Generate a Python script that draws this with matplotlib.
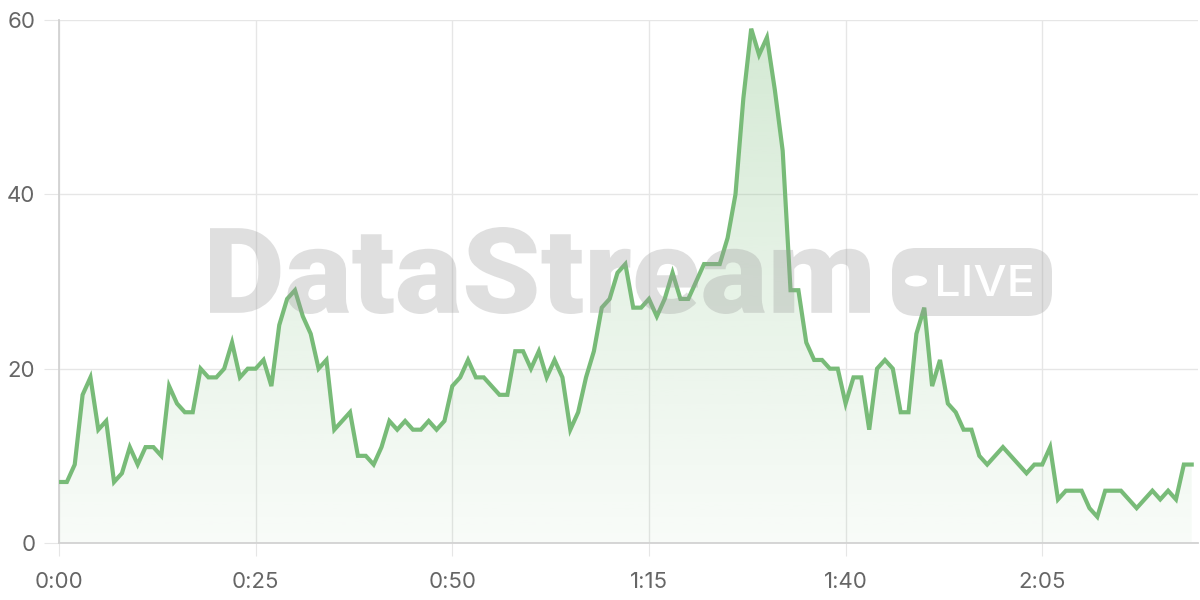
import matplotlib.pyplot as plt
import numpy as np
from matplotlib.ticker import FuncFormatter, MultipleLocator
from matplotlib.patches import FancyBboxPatch, Circle, PathPatch
from matplotlib.textpath import TextPath
from matplotlib.font_manager import FontProperties
from matplotlib.transforms import Affine2D

# values per second
seconds = list(range(145))
values = [7, 7, 9, 17, 19, 13, 14, 7, 8, 11, 9, 11, 11, 10, 18, 16, 15, 15, 20, 19,
          19, 20, 23, 19, 20, 20, 21, 18, 25, 28, 29, 26, 24, 20, 21, 13, 14, 15, 10, 10,
          9, 11, 14, 13, 14, 13, 13, 14, 13, 14, 18, 19, 21, 19, 19, 18, 17, 17, 22, 22,
          20, 22, 19, 21, 19, 13, 15, 19, 22, 27, 28, 31, 32, 27, 27, 28, 26, 28, 31, 28,
          28, 30, 32, 32, 32, 35, 40, 51, 59, 56, 58, 52, 45, 29, 29, 23, 21, 21, 20, 20,
          16, 19, 19, 13, 20, 21, 20, 15, 15, 24, 27, 18, 21, 16, 15, 13, 13, 10, 9, 10,
          11, 10, 9, 8, 9, 9, 11, 5, 6, 6, 6, 4, 3, 6, 6, 6, 5, 4, 5, 6,
          5, 6, 5, 9, 9]
y_ticks = [0, 20, 40, 60]
watermark = "DataStream"
badge_text = "LIVE"

line_color = "#78bb78"
grid_color = "#e6e6e6"
axis_color = "#d2d2d2"
label_color = "#666666"
font = ["Inter", "DejaVu Sans"]
H = 600  # figure height in px, for flipping y


def mmss(v, pos):
    v = int(round(v))
    return f"{v // 60}:{v % 60:02d}"


def fitted_text(fig, s, box, prop, **kw):
    # text path stretched to fill a pixel box (x0, y_top, x1, y_bottom)
    x0, yt, x1, yb = box
    p = TextPath((0, 0), s, size=100, prop=prop)
    e = p.get_extents()
    tr = (Affine2D().translate(-e.x0, -e.y0)
          .scale((x1 - x0) / e.width, (yb - yt) / e.height)
          .translate(x0, H - yb))
    fig.patches.append(PathPatch(tr.transform_path(p), transform=None, **kw))


fig = plt.figure(figsize=(12, 6), dpi=100)
ax = fig.add_axes([59 / 1200, 1 - 543 / 600, (1198 - 59) / 1200, (543 - 20) / 600])

x = np.array(seconds)
y = np.array(values)

# gradient fill under the line
poly = ax.fill_between(x, y, 0, color="none", lw=0)
rgba = np.zeros((256, 1, 4))
rgba[..., 0], rgba[..., 1], rgba[..., 2] = 120 / 255, 187 / 255, 120 / 255
rgba[..., 3] = np.linspace(0.05, 0.32, 256)[:, None]
img = ax.imshow(rgba, extent=[x.min(), x.max(), 0, 60], origin="lower",
                aspect="auto", zorder=1)
img.set_clip_path(poly.get_paths()[0], transform=ax.transData)

ax.plot(x, y, color=line_color, lw=3, zorder=4, solid_joinstyle="miter")

# watermark, drawn over the line
fitted_text(fig, watermark, (210, 227, 870, 314),
            FontProperties(family=["Roboto", "DejaVu Sans"], weight="black"),
            fc="#999999", ec="none", alpha=0.31, zorder=5)
badge = FancyBboxPatch((892 / 1200, 1 - 316 / 600), (1052 - 892) / 1200, 68 / 600,
                       boxstyle="round,pad=0,rounding_size=0.02",
                       transform=fig.transFigure, fc="#999999", ec="none",
                       alpha=0.31, zorder=5, mutation_aspect=2)
fig.patches.append(badge)
fig.patches.append(Circle((916 / 1200, 1 - 281 / 600), 11 / 1200,
                          transform=fig.transFigure, fc="white", ec="none", zorder=6))
fitted_text(fig, badge_text, (938, 265, 1032, 296),
            FontProperties(family=font, weight="medium"), fc="white", ec="none", zorder=6)

ax.set_xlim(0, 144.8)
ax.set_ylim(0, 60)
ax.set_yticks(y_ticks)
ax.xaxis.set_major_locator(MultipleLocator(25))
ax.xaxis.set_major_formatter(FuncFormatter(mmss))
ax.grid(True, color=grid_color, lw=1)
ax.set_axisbelow(True)
for s in ["top", "right"]:
    ax.spines[s].set_visible(False)
for s in ["left", "bottom"]:
    ax.spines[s].set_color(axis_color)
    ax.spines[s].set_linewidth(1.3)
ax.tick_params(axis="y", length=11, color=grid_color, pad=6, labelsize=16, labelcolor=label_color)
ax.tick_params(axis="x", length=9, color=grid_color, pad=12, labelsize=16, labelcolor=label_color)
for lab in ax.get_xticklabels() + ax.get_yticklabels():
    lab.set_family(font)

fig.savefig("out.png", dpi=100)
